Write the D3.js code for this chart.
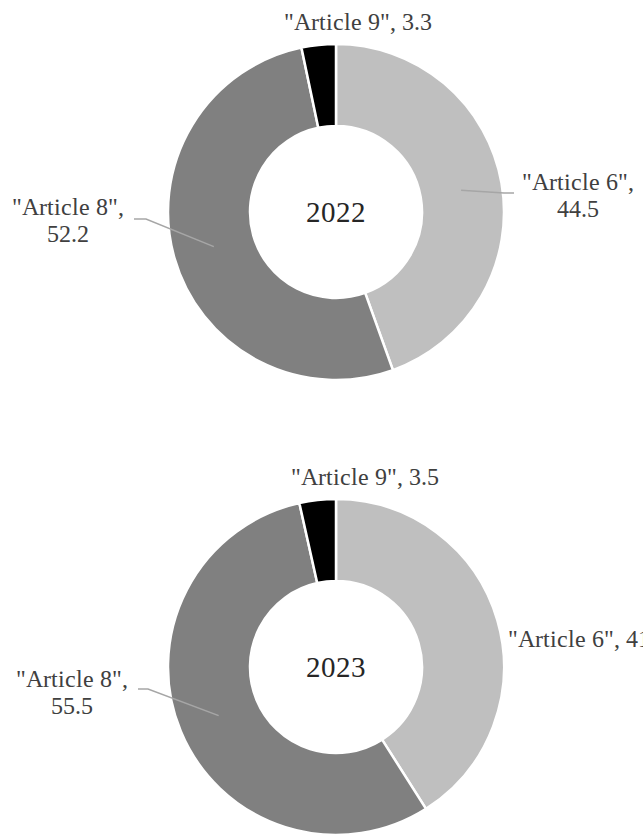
<!DOCTYPE html>
<html><head><meta charset="utf-8"><script src="https://cdn.jsdelivr.net/npm/d3@7"></script>
<style>
  @font-face { font-family: "ChartSerif"; src: local("Liberation Serif"), local("LiberationSerif"), local("LiberationSerif-Regular"), local("Times New Roman"); }
</style>
</head>
<body style="margin:0">
<svg width="643" height="834"></svg>
<script>
// SFDR fund classification shares

var categories = ["Article 6", "Article 8", "Article 9"];
var years = ["2022", "2023"];
var values2022 = [44.5, 52.2, 3.3];
var values2023 = [41, 55.5, 3.5];
var labelText2022 = [["\"Article 6\",", "44.5"], ["\"Article 8\",", "52.2"], ["\"Article 9\", 3.3"]];
var labelText2023 = [["\"Article 6\", 41"], ["\"Article 8\",", "55.5"], ["\"Article 9\", 3.5"]];

var fontFam = "ChartSerif, 'Times New Roman', 'Liberation Serif', serif";

var svg = d3.select("svg"),
    width = +svg.attr("width"),
    height = +svg.attr("height");

var outerR = 168, innerR = 86;

var color = d3.scaleOrdinal()
    .domain(categories)
    .range(["#bfbfbf", "#808080", "#000000"]);

var pie = d3.pie().sort(null).value(function (d) { return d.value; });
var arc = d3.arc().innerRadius(innerR).outerRadius(outerR);

// label placement, relative to each donut centre
var layout = [
    {cy: 212, labels: [
        {x: 242, y: -22, anchor: "middle", leader: [[168, -19], [178, -19]]},
        {x: -268, y: 3, anchor: "middle", leader: [[-190, 7], [-202, 7]]},
        {x: 22, y: -182, anchor: "middle", leader: null}
    ]},
    {cy: 667, labels: [
        {x: 172, y: -20, anchor: "start", leader: null},
        {x: -264, y: 20, anchor: "middle", leader: [[-188, 22], [-198, 22]]},
        {x: 29, y: -182, anchor: "middle", leader: null}
    ]}
];

var series = [values2022, values2023];
var labelTexts = [labelText2022, labelText2023];

series.forEach(function (vals, k) {
    var data = categories.map(function (c, i) {
        return {cat: c, value: vals[i], lines: labelTexts[k][i], lay: layout[k].labels[i]};
    });

    var g = svg.append("g")
        .attr("transform", "translate(" + (width / 2 + 14.5) + "," + layout[k].cy + ")");

    var arcs = pie(data);

    g.selectAll("path.slice")
        .data(arcs)
        .enter().append("path")
        .attr("class", "slice")
        .attr("d", arc)
        .attr("fill", function (d) { return color(d.data.cat); })
        .attr("stroke", "#fff")
        .attr("stroke-width", 2.5);

    // leader lines from the slice centroid
    g.selectAll("polyline")
        .data(arcs.filter(function (d) { return d.data.lay.leader; }))
        .enter().append("polyline")
        .attr("points", function (d) {
            var pts = [arc.centroid(d)].concat(d.data.lay.leader);
            return pts.map(function (p) { return p.join(","); }).join(" ");
        })
        .attr("fill", "none")
        .attr("stroke", "#a6a6a6")
        .attr("stroke-width", 1.5);

    var lab = g.selectAll("text.lab")
        .data(arcs)
        .enter().append("text")
        .attr("class", "lab")
        .attr("x", function (d) { return d.data.lay.x; })
        .attr("y", function (d) { return d.data.lay.y; })
        .attr("text-anchor", function (d) { return d.data.lay.anchor; })
        .attr("font-size", 23.5)
        .style("font-family", fontFam)
        .attr("fill", "#404040");

    lab.selectAll("tspan")
        .data(function (d) { return d.data.lines.map(function (t) { return {t: t, lay: d.data.lay}; }); })
        .enter().append("tspan")
        .attr("x", function (d) { return d.lay.x; })
        .attr("dy", function (d, i) { return i === 0 ? 0 : 27; })
        .text(function (d) { return d.t; });

    g.append("text")
        .attr("x", 0)
        .attr("y", 10)
        .attr("text-anchor", "middle")
        .attr("font-size", 29)
        .style("font-family", fontFam)
        .attr("fill", "#262626")
        .text(years[k]);
});
</script>
</body>
</html>
